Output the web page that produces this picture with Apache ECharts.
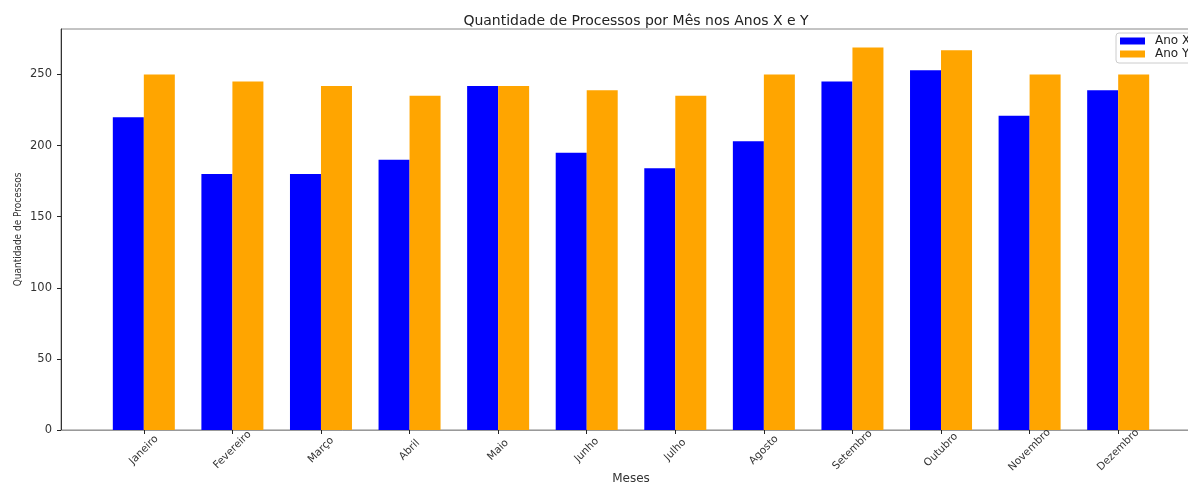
<!DOCTYPE html>
<html>
<head>
<meta charset="utf-8">
<script src="https://cdn.jsdelivr.net/npm/echarts@6/dist/echarts.min.js"></script>
<style>html,body{margin:0;padding:0;background:#fff}#c{width:1188px;height:484px}</style>
</head>
<body>
<div id="c"></div>
<script>
const months = ['Janeiro','Fevereiro','Março','Abril','Maio','Junho','Julho','Agosto','Setembro','Outubro','Novembro','Dezembro'];
const anoX = [220, 180, 180, 190, 242, 195, 184, 203, 245, 253, 221, 239];
const anoY = [250, 245, 242, 235, 242, 239, 235, 250, 269, 267, 250, 250];
const yTicks = [0, 50, 100, 150, 200, 250];

const FONT = 'DejaVu Sans';
const chart = echarts.init(document.getElementById('c'), null, {renderer: 'canvas'});
const xIdx = months.map((m, i) => i);
chart.setOption({
  animation: false,
  backgroundColor: '#fff',
  textStyle: {fontFamily: FONT},
  title: {
    text: 'Quantidade de Processos por Mês nos Anos X e Y',
    left: 631, top: 9, textAlign: 'center',
    textStyle: {fontFamily: FONT, fontSize: 14, fontWeight: 'normal', color: '#222'}
  },
  legend: {
    orient: 'vertical', left: 1116, top: 33,
    itemWidth: 25, itemHeight: 7, itemGap: 1,
    padding: [2, 6, 3, 4],
    borderColor: '#ccc', borderWidth: 1, borderRadius: 3,
    backgroundColor: 'rgba(255,255,255,0.8)',
    icon: 'rect',
    textStyle: {fontFamily: FONT, fontSize: 12, color: '#222', lineHeight: 12, padding: [0,0,0,5]},
    data: ['Ano X', 'Ano Y']
  },
  grid: {left: 61, top: 29, right: -13, bottom: 54, show: true, borderColor: '#888', borderWidth: 1,
         containLabel: false, outerBoundsMode: 'none'},
  xAxis: {
    type: 'value', min: -0.935, max: 11.935,
    name: 'Meses', nameLocation: 'middle', nameGap: 43, nameMoveOverlap: false,
    nameTextStyle: {fontFamily: FONT, fontSize: 12, color: '#333'},
    axisLine: {show: true, onZero: false, lineStyle: {color: '#999', width: 1}},
    axisTick: {show: true, length: 4, lineStyle: {color: '#222'}, customValues: xIdx},
    axisLabel: {
      customValues: xIdx, rotate: 45, margin: 20, align: 'center', verticalAlign: 'middle',
      fontFamily: FONT, fontSize: 10.5, color: '#333',
      formatter: v => months[Math.round(v)]
    },
    splitLine: {show: false}
  },
  yAxis: {
    type: 'value', min: 0, max: 282,
    name: 'Quantidade de Processos', nameLocation: 'middle', nameGap: 38, nameMoveOverlap: false,
    nameTextStyle: {fontFamily: 'DejaVu Sans Condensed', fontSize: 10, color: '#333'},
    axisLine: {show: true, onZero: false, lineStyle: {color: '#333', width: 1}},
    axisTick: {show: true, length: 4, lineStyle: {color: '#222'}, customValues: yTicks},
    axisLabel: {customValues: yTicks, margin: 9, fontFamily: FONT, fontSize: 11.5, color: '#333'},
    splitLine: {show: false}
  },
  series: [
    {name: 'Ano X', type: 'bar', barWidth: '35%', barGap: '0%',
     itemStyle: {color: '#0000ff'},
     data: anoX.map((v, i) => [xIdx[i], v])},
    {name: 'Ano Y', type: 'bar', barWidth: '35%', barGap: '0%',
     itemStyle: {color: '#ffa500'},
     data: anoY.map((v, i) => [xIdx[i], v])}
  ]
});
</script>
</body>
</html>
